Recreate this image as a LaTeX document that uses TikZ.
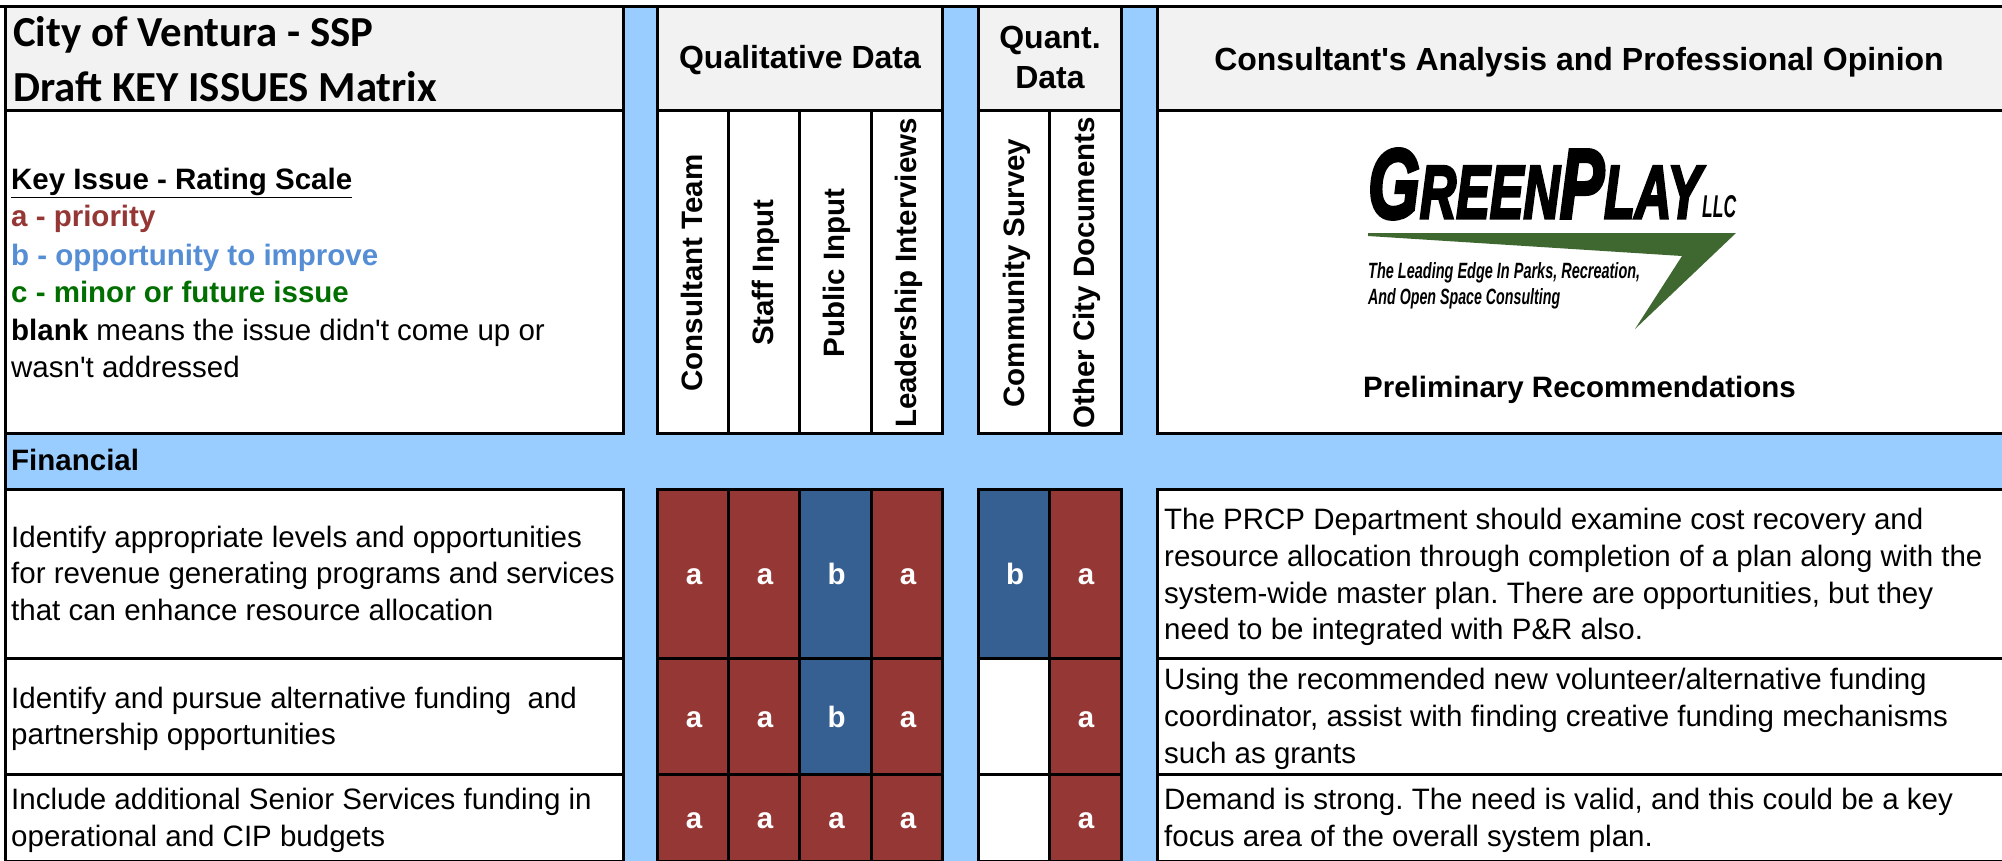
\documentclass[tikz,border=0pt]{standalone}
\usepackage{fontspec}
\setmainfont[Ligatures=TeXOff]{Liberation Sans}
\newfontfamily\titlefont{Carlito}
\newfontfamily\logofont[FakeBold=4]{Liberation Sans}
\definecolor{gapblue}{HTML}{99CCFF}
\definecolor{headgray}{HTML}{F2F2F2}
\definecolor{cellred}{HTML}{953735}
\definecolor{cellblue}{HTML}{376092}
\definecolor{textblue}{HTML}{558ED5}
\definecolor{textgreen}{HTML}{006F00}
\definecolor{logogreen}{HTML}{3F6730}
\newcommand{\bodyfs}{\fontsize{29.5}{36}\selectfont}
\newcommand{\headfs}{\fontsize{32}{40}\selectfont}
\newcommand{\cellrect}[5]{\path[tcell,fill=#5] (#1,#2) rectangle (#3,#4);}
\tikzset{
  x=1pt,y=-1pt,
  tcell/.style={draw=black,line width=3pt,line join=miter},
  txt/.style={inner sep=0pt,anchor=base west,font=\bodyfs,text=black},
  ttl/.style={inner sep=0pt,anchor=base west,font=\titlefont\bfseries\fontsize{42.8}{48}\selectfont},
  hd/.style={inner sep=0pt,anchor=base,font=\bfseries\headfs},
  subhd/.style={inner sep=0pt,anchor=base,font=\bfseries\bodyfs},
  rot/.style={inner sep=0pt,anchor=base,rotate=90,font=\bfseries\bodyfs},
  mark a/.style={inner sep=0pt,anchor=base,text=white,font=\bfseries\bodyfs},
}
\begin{document}
\frenchspacing
\begin{tikzpicture}
\clip (0,0) rectangle (2002,861);
\fill[white] (0,0) rectangle (2002,861);
\fill[gapblue] (5.4,6.7) rectangle (2002,861);
% header row
\cellrect{5.4}{6.7}{623.5}{111}{headgray}
\cellrect{657.4}{6.7}{942.5}{111}{headgray}
\cellrect{978.5}{6.7}{1121}{111}{headgray}
\cellrect{1157}{6.7}{2010}{111}{headgray}
\draw[line width=3pt] (0,6.7) -- (2002,6.7);
% sub header row
\cellrect{5.4}{111}{623.5}{433}{white}
\foreach \xa/\xb in {657.4/728,728/799.4,799.4/871,871/942.5,978.5/1049,1049/1121}
  {\cellrect{\xa}{111}{\xb}{433}{white}}
\cellrect{1157}{111}{2010}{433}{white}
% data rows
\foreach \ya/\yb in {489/658,658/774,774/861.5}{
  \cellrect{5.4}{\ya}{623.5}{\yb}{white}
  \cellrect{1157}{\ya}{2010}{\yb}{white}
}
\foreach \xa/\xb/\ya/\yb/\cc in {
  657.4/728/489/658/cellred,728/799.4/489/658/cellred,799.4/871/489/658/cellblue,871/942.5/489/658/cellred,978.5/1049/489/658/cellblue,1049/1121/489/658/cellred,
  657.4/728/658/774/cellred,728/799.4/658/774/cellred,799.4/871/658/774/cellblue,871/942.5/658/774/cellred,978.5/1049/658/774/white,1049/1121/658/774/cellred,
  657.4/728/774/861.5/cellred,728/799.4/774/861.5/cellred,799.4/871/774/861.5/cellred,871/942.5/774/861.5/cellred,978.5/1049/774/861.5/white,1049/1121/774/861.5/cellred}
  {\cellrect{\xa}{\ya}{\xb}{\yb}{\cc}}
\draw[line width=3pt] (5.4,6.7) -- (5.4,861);
% title
\node[ttl] (t1) at (13,47) {City of Ventura - SSP};
\node[ttl] (t2) at (13,102) {Draft KEY ISSUES Matrix};
% legend
\node[txt,font=\bfseries\bodyfs] (k0) at (11,190) {\underline{Key Issue - Rating Scale}};
\node[txt,font=\bfseries\bodyfs,text=cellred] (k1) at (11,226.7) {a - priority};
\node[txt,font=\bfseries\bodyfs,text=textblue] (k2) at (11,265) {b - opportunity to improve};
\node[txt,font=\bfseries\bodyfs,text=textgreen] (k3) at (11,302.7) {c - minor or future issue};
\node[txt] (k4) at (11,340.7) {\textbf{blank} means the issue didn't come up or};
\node[txt] (k5) at (11,377.7) {wasn't addressed};
% column headers
\node[hd] (h1) at (800,69) {Qualitative Data};
\node[hd] (h2) at (1050,49) {Quant.};
\node[hd] (h3) at (1050,89) {Data};
\node[hd] (h4) at (1579,71) {Consultant's Analysis and Professional Opinion};
\node[rot] (r1) at (702.6,273) {Consultant Team};
\node[rot] (r2) at (773,273) {Staff Input};
\node[rot] (r3) at (844,273) {Public Input};
\node[rot] (r4) at (916,273) {Leadership Interviews};
\node[rot] (r5) at (1024,273) {Community Survey};
\node[rot] (r6) at (1094.4,273) {Other City Documents};
% logo
\node[inner sep=0pt,anchor=base west] (l1) at (1368,218) {\resizebox{333pt}{69pt}{\logofont\bfseries\itshape\fontsize{100}{100}\selectfont G\fontsize{76}{76}\selectfont REEN\fontsize{100}{100}\selectfont P\fontsize{76}{76}\selectfont LAY}};
\node[inner sep=0pt,anchor=base west] (l2) at (1702,218) {\resizebox{34pt}{22pt}{\bfseries\itshape LLC}};
\fill[logogreen] (1368,233) -- (1736,233) -- (1635,329) -- (1682,256) -- (1368,236) -- cycle;
\node[inner sep=0pt,anchor=base west] (l3) at (1368,278) {\resizebox{272pt}{16pt}{\itshape\bfseries The Leading Edge In Parks, Recreation,}};
\node[inner sep=0pt,anchor=base west] (l4) at (1368,304) {\resizebox{192pt}{16pt}{\itshape\bfseries And Open Space Consulting}};
\node[subhd] (h5) at (1579.5,397) {Preliminary Recommendations};
% band
\node[txt,font=\bfseries\bodyfs] (fin) at (11,470) {Financial};
% left column
\node[txt] (a1) at (11,547) {Identify appropriate levels and opportunities};
\node[txt] (a2) at (11,583) {for revenue generating programs and services};
\node[txt] (a3) at (11,620) {that can enhance resource allocation};
\node[txt] (a4) at (11,708) {Identify and pursue alternative funding~ and};
\node[txt] (a5) at (11,744) {partnership opportunities};
\node[txt] (a6) at (11,809) {Include additional Senior Services funding in};
\node[txt] (a7) at (11,846) {operational and CIP budgets};
% ratings
\foreach \nm/\xx/\yy/\tx in {
  m11/694/584/a,m12/765/584/a,m13/836.5/584/b,m14/908/584/a,m15/1015/584/b,m16/1086/584/a,
  m21/694/727/a,m22/765/727/a,m23/836.5/727/b,m24/908/727/a,m26/1086/727/a,
  m31/694/828/a,m32/765/828/a,m33/836.5/828/a,m34/908/828/a,m36/1086/828/a}
  {\node[mark a] (\nm) at (\xx,\yy) {\tx};}
% right column
\node[txt] (b1) at (1164,529) {The PRCP Department should examine cost recovery and};
\node[txt] (b2) at (1164,566) {resource allocation through completion of a plan along with the};
\node[txt] (b3) at (1164,603) {system-wide master plan. There are opportunities, but they};
\node[txt] (b4) at (1164,639) {need to be integrated with P\&R also.};
\node[txt] (b5) at (1164,689) {Using the recommended new volunteer/alternative funding};
\node[txt] (b6) at (1164,726) {coordinator, assist with finding creative funding mechanisms};
\node[txt] (b7) at (1164,763) {such as grants};
\node[txt] (b8) at (1164,809) {Demand is strong. The need is valid, and this could be a key};
\node[txt] (b9) at (1164,846) {focus area of the overall system plan.};
\end{tikzpicture}
\end{document}
